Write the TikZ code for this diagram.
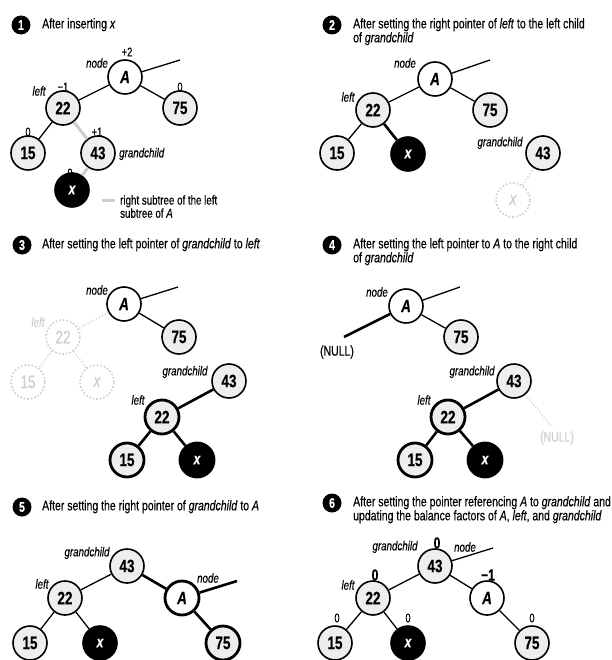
\documentclass[tikz,border=0pt]{standalone}
\usepackage{fontspec}
\setmainfont{Liberation Sans}[FakeStretch=0.75, FakeBold=0.35]
\usepackage{tikz}
\definecolor{cc}{RGB}{238, 238, 238}
\definecolor{fade}{RGB}{205, 205, 205}

\begin{document}
\begin{tikzpicture}[
every node/.style={inner sep=0pt},
num/.style={circle, minimum size=34pt, fill=cc, line width=1.6pt, draw=black, font=\fontsize{18}{18}\selectfont\bfseries},
ptr/.style={num, fill=white, font=\fontsize{18}{18}\selectfont\bfseries\itshape},
leaf/.style={num, fill=black, text=white, font=\fontsize{16}{16}\selectfont\bfseries\itshape},
gone/.style={num, fill=white, draw=fade, text=fade, dotted, font=\fontsize{18}{18}\selectfont},
heavy/.style={line width=2.8pt},
badge/.style={circle, minimum size=19pt, fill=black, text=white, font=\fontsize{14}{14}\selectfont\bfseries},
title/.style={anchor=north west, align=left, font=\fontsize{14}{14}\selectfont},
tag/.style={font=\fontsize{13}{13}\selectfont\itshape},
bal/.style={font=\fontsize{12.5}{12.5}\selectfont},
bigbal/.style={font=\fontsize{16}{16}\selectfont\bfseries},
link/.style={line width=1.3pt, color=black},
boldlink/.style={line width=2.6pt, color=black},
fadelink/.style={line width=1.2pt, color=fade, dotted},
graylink/.style={line width=3pt, color=fade}
]
\useasboundingbox (0pt, 0pt) rectangle (611pt, -660pt);

% 1
\node (b1) [badge] at (21pt, -25pt) {1};
\node (t1) [title] at (42pt, -18pt) {After inserting \textit{x}};
\node (A1) [ptr] at (125pt, -77pt) {A};
\node (L1) [num] at (63pt, -108pt) {22};
\node (R1) [num] at (180pt, -108pt) {75};
\node (LL1) [num] at (28pt, -153pt) {15};
\node (G1) [num] at (98pt, -153pt) {43};
\node (X1) [leaf] at (72pt, -190pt) {x};
\coordinate (P1) at (180pt, -60pt);
\node (n1) [tag] at (97pt, -63pt) {node};
\node (f1) [tag] at (39pt, -91pt) {left};
\node (g1) [tag, anchor=west] at (119pt, -154pt) {grandchild};
\node (bA1) [bal] at (127pt, -52pt) {+2};
\node (bL1) [bal] at (63pt, -87pt) {−1};
\node (bR1) [bal] at (180pt, -87pt) {0};
\node (bLL1) [bal] at (28pt, -132pt) {0};
\node (bG1) [bal] at (97pt, -132pt) {+1};
\node (bX1) [bal] at (70pt, -173pt) {0};
\coordinate (K1a) at (102pt, -201pt);
\coordinate (K1b) at (115pt, -201pt);
\node (k1) [anchor=north west, align=left, font=\fontsize{13}{12}\selectfont] at (120pt, -195pt) {right subtree of the left\\subtree of \textit{A}};
\draw [link] (A1) to (P1);
\draw [link] (A1) to (L1);
\draw [link] (A1) to (R1);
\draw [link] (L1) to (LL1);
\draw [graylink] (L1) to (G1);
\draw [graylink] (G1) to (X1);
\draw [graylink] (K1a) to (K1b);

% 2
\node (b2) [badge] at (332pt, -25pt) {2};
\node (t2) [title] at (353pt, -18pt) {After setting the right pointer of \textit{left} to the left child\\of \textit{grandchild}};
\node (A2) [ptr] at (435pt, -79pt) {A};
\node (L2) [num] at (373pt, -110pt) {22};
\node (R2) [num] at (490pt, -110pt) {75};
\node (LL2) [num] at (337pt, -153pt) {15};
\node (X2) [leaf] at (408pt, -154pt) {x};
\node (G2) [num] at (543pt, -153pt) {43};
\node (F2) [gone] at (513pt, -200pt) {\itshape x};
\coordinate (P2) at (490pt, -60pt);
\node (n2) [tag] at (405pt, -63pt) {node};
\node (f2) [tag] at (348pt, -97pt) {left};
\node (g2) [tag] at (500pt, -143pt) {grandchild};
\draw [link] (A2) to (P2);
\draw [link] (A2) to (L2);
\draw [link] (A2) to (R2);
\draw [link] (L2) to (LL2);
\draw [boldlink] (L2) to (X2);
\draw [fadelink] (G2) to (F2);

% 3
\node (b3) [badge] at (22pt, -245pt) {3};
\node (t3) [title] at (42pt, -238pt) {After setting the left pointer of \textit{grandchild} to \textit{left}};
\node (A3) [ptr] at (124pt, -304pt) {A};
\node (R3) [num] at (179pt, -337pt) {75};
\node (FL3) [gone] at (63pt, -337pt) {22};
\node (FLL3) [gone] at (28pt, -382pt) {15};
\node (FX3) [gone] at (97pt, -382pt) {\itshape x};
\node (G3) [num] at (229pt, -381pt) {43};
\node (L3) [num, heavy] at (162pt, -417pt) {22};
\node (LL3) [num, heavy] at (127pt, -460pt) {15};
\node (X3) [leaf, heavy] at (197pt, -460pt) {x};
\coordinate (P3) at (178pt, -287pt);
\node (n3) [tag] at (97pt, -290pt) {node};
\node (ff3) [tag, text=fade] at (38pt, -322pt) {left};
\node (g3) [tag] at (185pt, -372pt) {grandchild};
\node (f3) [tag] at (138pt, -400pt) {left};
\draw [link] (A3) to (P3);
\draw [link] (A3) to (R3);
\draw [fadelink] (A3) to (FL3);
\draw [fadelink] (FL3) to (FLL3);
\draw [fadelink] (FL3) to (FX3);
\draw [boldlink] (G3) to (L3);
\draw [boldlink] (L3) to (LL3);
\draw [boldlink] (L3) to (X3);

% 4
\node (b4) [badge] at (332pt, -245pt) {4};
\node (t4) [title] at (353pt, -238pt) {After setting the left pointer to \textit{A} to the right child\\of \textit{grandchild}};
\node (A4) [ptr] at (406pt, -306pt) {A};
\node (R4) [num] at (461pt, -337pt) {75};
\node (G4) [num] at (514pt, -381pt) {43};
\node (L4) [num, heavy] at (448pt, -417pt) {22};
\node (LL4) [num, heavy] at (415pt, -460pt) {15};
\node (X4) [leaf, heavy] at (485pt, -460pt) {x};
\coordinate (P4) at (460pt, -287pt);
\coordinate (N4) at (344pt, -337pt);
\coordinate (M4) at (552pt, -427pt);
\node (nl4) [font=\fontsize{14}{14}\selectfont] at (337pt, -352pt) {(NULL)};
\node (ml4) [font=\fontsize{14}{14}\selectfont, text=fade] at (557pt, -438pt) {(NULL)};
\node (n4) [tag] at (377pt, -292pt) {node};
\node (g4) [tag] at (472pt, -372pt) {grandchild};
\node (f4) [tag] at (424pt, -400pt) {left};
\draw [link] (A4) to (P4);
\draw [link] (A4) to (R4);
\draw [boldlink] (A4) to (N4);
\draw [boldlink] (G4) to (L4);
\draw [boldlink] (L4) to (LL4);
\draw [boldlink] (L4) to (X4);
\draw [fadelink] (G4) to (M4);

% 5
\node (b5) [badge] at (22pt, -507pt) {5};
\node (t5) [title] at (42pt, -500pt) {After setting the right pointer of \textit{grandchild} to \textit{A}};
\node (G5) [num] at (127pt, -566pt) {43};
\node (L5) [num] at (65pt, -598pt) {22};
\node (A5) [ptr, heavy] at (182pt, -598pt) {A};
\node (LL5) [num] at (30pt, -643pt) {15};
\node (X5) [leaf] at (100pt, -643pt) {x};
\node (R5) [num, heavy] at (223pt, -643pt) {75};
\coordinate (P5) at (237pt, -581pt);
\node (g5) [tag] at (87pt, -553pt) {grandchild};
\node (f5) [tag] at (42pt, -584pt) {left};
\node (n5) [tag] at (208pt, -578pt) {node};
\draw [link] (G5) to (L5);
\draw [link] (L5) to (LL5);
\draw [link] (L5) to (X5);
\draw [boldlink] (G5) to (A5);
\draw [boldlink] (A5) to (R5);
\draw [boldlink] (A5) to (P5);

% 6
\node (b6) [badge] at (332pt, -503pt) {6};
\node (t6) [title] at (353pt, -496pt) {After setting the pointer referencing \textit{A} to \textit{grandchild} and\\updating the balance factors of \textit{A}, \textit{left}, and \textit{grandchild}};
\node (G6) [num] at (435pt, -566pt) {43};
\node (L6) [num] at (373pt, -598pt) {22};
\node (A6) [ptr] at (487pt, -598pt) {A};
\node (LL6) [num] at (335pt, -643pt) {15};
\node (X6) [leaf] at (408pt, -643pt) {x};
\node (R6) [num] at (532pt, -643pt) {75};
\coordinate (P6) at (493pt, -548pt);
\node (g6) [tag] at (395pt, -547pt) {grandchild};
\node (n6) [tag] at (465pt, -547pt) {node};
\node (f6) [tag] at (348pt, -585pt) {left};
\node (bG6) [bigbal] at (437pt, -543pt) {0};
\node (bL6) [bigbal] at (375pt, -575pt) {0};
\node (bA6) [bigbal] at (488pt, -575pt) {−1};
\node (bLL6) [bal] at (337pt, -618pt) {0};
\node (bX6) [bal] at (408pt, -618pt) {0};
\node (bR6) [bal] at (532pt, -618pt) {0};
\draw [link] (G6) to (P6);
\draw [link] (G6) to (L6);
\draw [link] (G6) to (A6);
\draw [link] (L6) to (LL6);
\draw [link] (L6) to (X6);
\draw [link] (A6) to (R6);
\end{tikzpicture}
\end{document}
